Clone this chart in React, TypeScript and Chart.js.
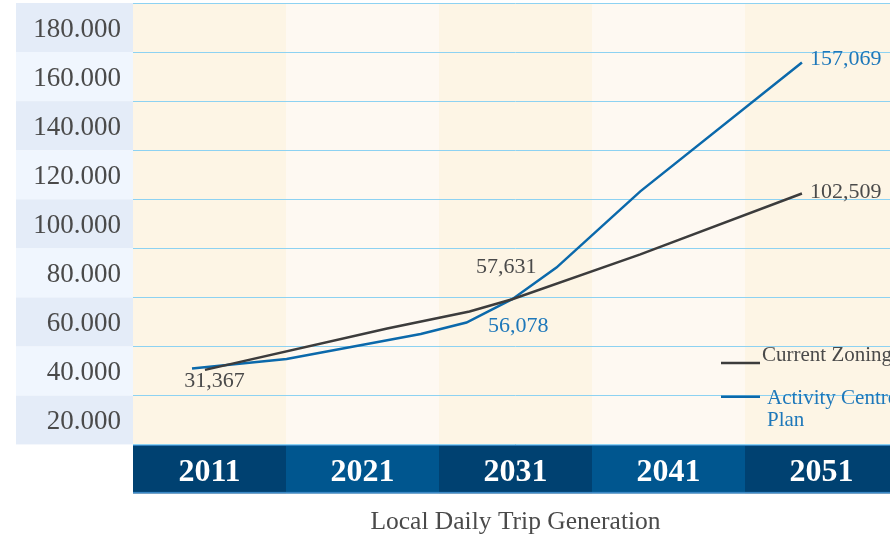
import React, { useEffect, useRef } from 'react';
import { Chart, registerables } from 'chart.js';

Chart.register(...registerables);

// ---- data ----
const yearLabels = ['2011', '2021', '2031', '2041', '2051'];
const seriesNames = ['Current Zoning', 'Activity Centre', 'Plan'];

const currentZoningYears = [2011.85, 2023.8, 2029.2, 2032.0, 2040.4, 2051.0];
const currentZoningValues = [30400, 47300, 54200, 59200, 77500, 102300];

const activityYears = [2011.0, 2017.2, 2026.0, 2029.0, 2032.0, 2034.9, 2040.4, 2051.0];
const activityValues = [31000, 34800, 45000, 49700, 59200, 72100, 103200, 155700];

const currentZoningLabels = ['31,367', '57,631', '102,509'];
const activityLabels = ['56,078', '157,069'];

const yMin = 0;
const yMax = 180000;
const yStep = 20000;
const xMinYear = 2007.13;
const xMaxYear = 2057.3;

const chartTitle = 'Local Daily Trip Generation';

const FONT = "'Liberation Serif', serif";
const GREY = '#4a4a4a';
const LINE_DARK = '#3c3c3c';
const LINE_BLUE = '#0b69ab';
const TEXT_BLUE = '#1e78ba';

const bgPlugin = {
  id: 'bgBands',
  beforeDraw(chart: any) {
    const { ctx, chartArea: ca, scales } = chart;
    const y = scales.y;
    const xb = scales.xb;
    ctx.save();
    // y-label bands
    const ticks = y.ticks;
    for (let i = 0; i < ticks.length - 1; i++) {
      const v0 = ticks[i].value;
      const v1 = ticks[i + 1].value;
      const top = y.getPixelForValue(v1);
      const bot = y.getPixelForValue(v0);
      ctx.fillStyle = Math.round(v1 / yStep) % 2 === 1 ? '#e4ecf8' : '#f0f6fe';
      ctx.fillRect(y.left, top, y.right - y.left, bot - top);
    }
    // plot columns and x band
    const n = yearLabels.length;
    const w = (xb.right - xb.left) / n;
    for (let i = 0; i < n; i++) {
      const left = xb.getPixelForValue(i) - w / 2;
      ctx.fillStyle = i % 2 === 0 ? '#fdf5e5' : '#fef9f2';
      ctx.fillRect(left, ca.top, w, ca.bottom - ca.top);
      ctx.fillStyle = i % 2 === 0 ? '#004171' : '#00568f';
      ctx.fillRect(left, xb.top, w, xb.bottom - xb.top);
    }
    ctx.fillStyle = '#3a88c6';
    ctx.fillRect(xb.left, xb.top, xb.right - xb.left, 1.5);
    ctx.fillRect(xb.left, xb.bottom - 1.5, xb.right - xb.left, 1.5);
    ctx.restore();
  },
};

const annotPlugin = {
  id: 'annots',
  afterDatasetsDraw(chart: any) {
    const { ctx, chartArea: ca } = chart;
    const cz = chart.getDatasetMeta(0).data;
    const ac = chart.getDatasetMeta(1).data;
    ctx.save();
    ctx.font = `22px ${FONT}`;
    ctx.textBaseline = 'middle';
    // current zoning labels
    ctx.fillStyle = GREY;
    ctx.textAlign = 'center';
    ctx.fillText(currentZoningLabels[0], cz[0].x + 9.5, cz[0].y + 11);
    ctx.fillText(currentZoningLabels[1], cz[3].x - 6, cz[3].y - 32);
    ctx.textAlign = 'left';
    ctx.fillText(currentZoningLabels[2], cz[cz.length - 1].x + 8, cz[cz.length - 1].y - 1);
    // activity centre labels
    ctx.fillStyle = TEXT_BLUE;
    ctx.textAlign = 'center';
    ctx.fillText(activityLabels[0], ac[4].x + 6, ac[4].y + 27);
    ctx.textAlign = 'left';
    ctx.fillText(activityLabels[1], ac[ac.length - 1].x + 8, ac[ac.length - 1].y - 3);

    // legend
    const lx0 = ca.left + 588;
    const lx1 = ca.left + 627;
    ctx.lineWidth = 2.5;
    ctx.strokeStyle = LINE_DARK;
    ctx.beginPath();
    ctx.moveTo(lx0, ca.top + 360);
    ctx.lineTo(lx1, ca.top + 360);
    ctx.stroke();
    ctx.strokeStyle = LINE_BLUE;
    ctx.beginPath();
    ctx.moveTo(lx0, ca.top + 393.7);
    ctx.lineTo(lx1, ca.top + 393.7);
    ctx.stroke();
    ctx.font = `21px ${FONT}`;
    ctx.textBaseline = 'alphabetic';
    ctx.textAlign = 'left';
    ctx.fillStyle = GREY;
    ctx.fillText(seriesNames[0], ca.left + 629, ca.top + 358);
    ctx.fillStyle = TEXT_BLUE;
    ctx.fillText(seriesNames[1], ca.left + 634, ca.top + 401);
    ctx.fillText(seriesNames[2], ca.left + 634, ca.top + 423);
    ctx.restore();
  },
};

export default function App() {
  const ref = useRef<HTMLCanvasElement>(null);

  useEffect(() => {
    document.body.style.margin = '0';
    const canvas = ref.current;
    if (!canvas) return;
    const chart = new Chart(canvas, {
      type: 'line',
      data: {
        datasets: [
          {
            label: seriesNames[0],
            data: currentZoningYears.map((x, i) => ({ x, y: currentZoningValues[i] })),
            borderColor: LINE_DARK,
            borderWidth: 2.5,
            pointRadius: 0,
            tension: 0,
            fill: false,
            xAxisID: 'x',
            yAxisID: 'y',
          },
          {
            label: seriesNames[1] + ' ' + seriesNames[2],
            data: activityYears.map((x, i) => ({ x, y: activityValues[i] })),
            borderColor: LINE_BLUE,
            borderWidth: 2.5,
            pointRadius: 0,
            tension: 0,
            fill: false,
            xAxisID: 'x',
            yAxisID: 'y',
          },
        ],
      },
      options: {
        animation: false,
        responsive: false,
        maintainAspectRatio: false,
        layout: { padding: { left: 16, top: 3, right: 12, bottom: 0 } },
        scales: {
          x: {
            type: 'linear',
            min: xMinYear,
            max: xMaxYear,
            display: false,
          },
          xb: {
            type: 'category',
            labels: yearLabels,
            position: 'bottom',
            offset: true,
            grid: { display: false, drawTicks: false },
            border: { display: false },
            ticks: {
              color: '#ffffff',
              font: { family: FONT, size: 32, weight: 'bold' },
              padding: 9,
              maxRotation: 0,
              autoSkip: false,
            },
            afterFit(s: any) {
              s.height = 49;
              s.paddingLeft = 0;
              s.paddingRight = 0;
            },
          },
          y: {
            type: 'linear',
            position: 'left',
            min: yMin,
            max: yMax,
            border: { display: false },
            grid: { color: '#8dd2f2', lineWidth: 1, drawTicks: false },
            ticks: {
              stepSize: yStep,
              color: GREY,
              font: { family: FONT, size: 27 },
              padding: 12,
              labelOffset: 27,
              callback: (v: any) => (Number(v) === 0 ? '' : `${Number(v) / 1000}.000`),
            },
            afterFit(s: any) {
              s.width = 117;
              s.paddingTop = 0;
              s.paddingBottom = 0;
            },
          },
        },
        plugins: {
          legend: { display: false },
          tooltip: { enabled: false },
          title: {
            display: true,
            position: 'bottom',
            fullSize: false,
            text: chartTitle,
            color: GREY,
            font: { family: FONT, size: 25.5, weight: 'normal' },
            padding: { top: 14, bottom: 1 },
          },
        },
      },
      plugins: [bgPlugin, annotPlugin],
    });
    return () => chart.destroy();
  }, []);

  return (
    <div style={{ width: 890, height: 539, overflow: 'hidden', position: 'relative' }}>
      <canvas ref={ref} width={910} height={539} style={{ display: 'block', width: 910, height: 539 }} />
    </div>
  );
}
